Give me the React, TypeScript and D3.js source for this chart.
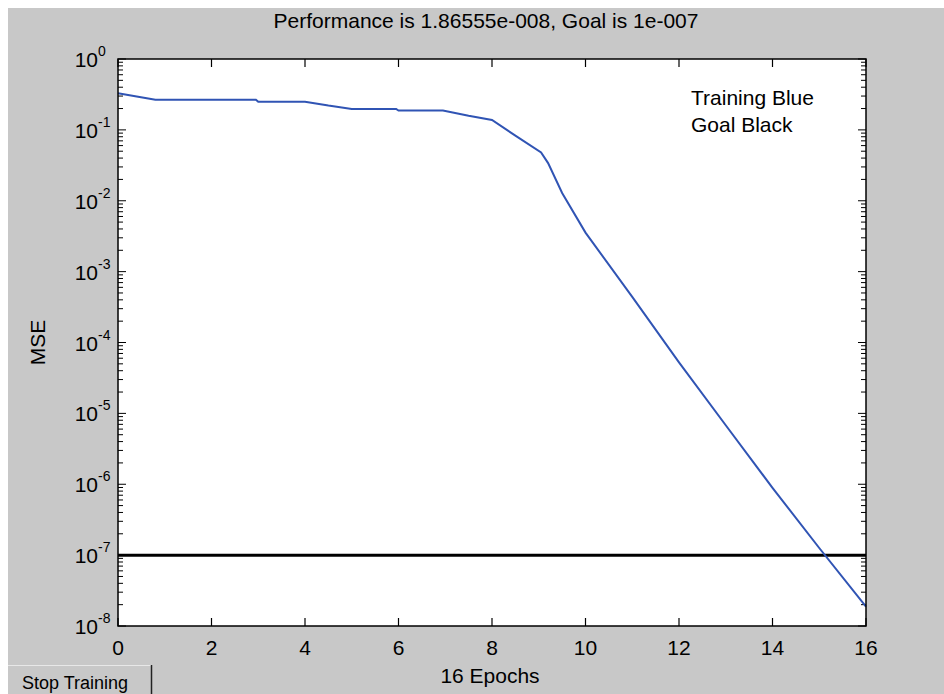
import React from 'react';
import * as d3 from 'd3';

// training record (epoch, mse)
const epochs = [0, 0.4, 0.8, 2.95, 3.0, 4.0, 4.5, 5.0, 5.95, 6.0, 6.95, 7.5, 8.0, 8.5, 9.05, 9.2, 9.5, 10, 11, 12, 13, 14, 15, 16];
const mse = [0.328, 0.295, 0.267, 0.267, 0.25, 0.25, 0.22, 0.197, 0.197, 0.187, 0.187, 0.158, 0.138, 0.083, 0.048, 0.034, 0.0129, 0.00355, 4.4e-4, 5.25e-5, 6.8e-6, 8.9e-7, 1.26e-7, 1.87e-8];
const goal = 1e-7;

const xTicks = [0, 2, 4, 6, 8, 10, 12, 14, 16];
const yExponents = [0, -1, -2, -3, -4, -5, -6, -7, -8];

const titleText = 'Performance is 1.86555e-008, Goal is 1e-007';
const xLabel = '16 Epochs';
const yLabel = 'MSE';
const legendLines = ['Training Blue', 'Goal Black'];
const buttonText = 'Stop Training';

const W = 936;
const H = 686;
const margin = { top: 51, right: 78, bottom: 68, left: 110 };
const FONT = '"Liberation Sans", Arial, sans-serif';

const App = () => {
  const innerW = W - margin.left - margin.right;
  const innerH = H - margin.top - margin.bottom;

  const x = d3.scaleLinear().domain([0, 16]).range([0, innerW]);
  const y = d3.scaleLog().domain([1e-8, 1]).range([innerH, 0]);

  const points = epochs.map((e, i) => ({ e, v: mse[i] }));
  const line = d3.line<{ e: number; v: number }>()
    .x(d => x(d.e))
    .y(d => y(d.v));

  // minor ticks 2..9 in each decade
  const minor: number[] = [];
  for (let p = -8; p < 0; p++) {
    for (let m = 2; m <= 9; m++) minor.push(m * Math.pow(10, p));
  }

  return (
    <svg
      width={W}
      height={H}
      style={{ position: 'absolute', left: 8, top: 8, display: 'block' }}
      fontFamily={FONT}
    >
      <rect width={W} height={H} fill="#c8c8c8" />

      <text x={margin.left + innerW / 2 - 6} y={20} textAnchor="middle" fontSize={21} fill="#000">
        {titleText}
      </text>

      <g transform={`translate(${margin.left},${margin.top})`}>
        <rect width={innerW} height={innerH} fill="#fff" />

        {/* y ticks, left and right, pointing inward */}
        {yExponents.map(p => {
          const yy = y(Math.pow(10, p));
          return (
            <g key={'ym' + p}>
              <line x1={0} x2={8} y1={yy} y2={yy} stroke="#000" strokeWidth={1} />
              <line x1={innerW} x2={innerW - 8} y1={yy} y2={yy} stroke="#000" strokeWidth={1} />
            </g>
          );
        })}
        {minor.map((v, i) => {
          const yy = y(v);
          return (
            <g key={'yn' + i}>
              <line x1={0} x2={5} y1={yy} y2={yy} stroke="#000" strokeWidth={1} />
              <line x1={innerW} x2={innerW - 5} y1={yy} y2={yy} stroke="#000" strokeWidth={1} />
            </g>
          );
        })}

        {/* x ticks, bottom and top */}
        {xTicks.map(t => (
          <g key={'x' + t}>
            <line x1={x(t)} x2={x(t)} y1={innerH} y2={innerH - 8} stroke="#000" strokeWidth={1.2} />
            <line x1={x(t)} x2={x(t)} y1={0} y2={8} stroke="#000" strokeWidth={1.2} />
            <text x={x(t)} y={innerH + 29} textAnchor="middle" fontSize={21} fill="#000">
              {t}
            </text>
          </g>
        ))}

        {/* y tick labels 10^p */}
        {yExponents.map(p => {
          const yy = y(Math.pow(10, p));
          return (
            <g key={'yl' + p}>
              <text x={-20} y={yy + 8} textAnchor="end" fontSize={21} fill="#000">10</text>
              <text x={-20} y={yy - 3} fontSize={14} fill="#000">{p}</text>
            </g>
          );
        })}

        {/* goal line */}
        <line x1={0} x2={innerW} y1={y(goal)} y2={y(goal)} stroke="#000" strokeWidth={3} />

        {/* performance curve */}
        <path d={line(points) || ''} fill="none" stroke="#3054b4" strokeWidth={2} />

        {/* axes box */}
        <rect width={innerW} height={innerH} fill="none" stroke="#000" strokeWidth={1.5} />

        {legendLines.map((s, i) => (
          <text key={s} x={573} y={46 + i * 27} fontSize={21} fill="#000">{s}</text>
        ))}

        <text
          transform={`translate(${-73},${innerH / 2}) rotate(-90)`}
          textAnchor="middle"
          fontSize={21}
          fill="#000"
        >
          {yLabel}
        </text>
        <text x={innerW / 2 - 2} y={innerH + 57} textAnchor="middle" fontSize={21} fill="#000">
          {xLabel}
        </text>
      </g>

      {/* stop training button */}
      <g transform={`translate(0,${H - 29})`}>
        <rect x={0} y={0} width={144} height={32} fill="#c8c8c8" />
        <line x1={0} x2={144} y1={0.5} y2={0.5} stroke="#e8e8e8" strokeWidth={1} />
        <line x1={143.5} x2={143.5} y1={0} y2={32} stroke="#222" strokeWidth={1.5} />
        <text x={14} y={24} fontSize={18} fill="#000">{buttonText}</text>
      </g>
    </svg>
  );
};

export default App;
